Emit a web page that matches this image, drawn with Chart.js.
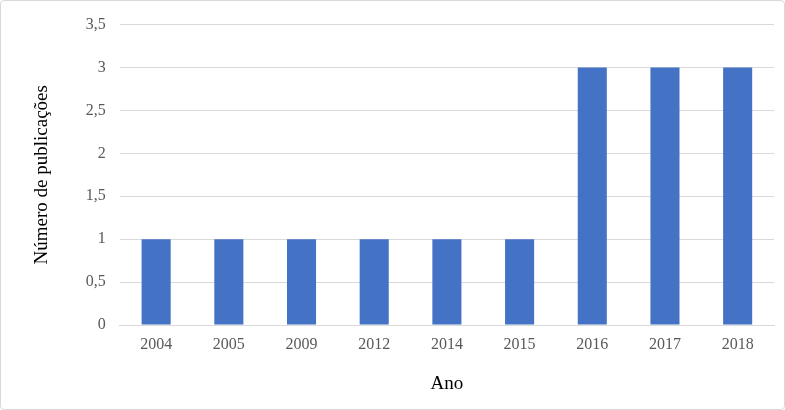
<!DOCTYPE html>
<html><head><meta charset="utf-8">
<script src="https://cdn.jsdelivr.net/npm/chart.js@4/dist/chart.umd.min.js"></script>
<style>html,body{margin:0;padding:0;background:#fff}
#w{width:783px;height:408px;border:1px solid #d9d9d9;border-radius:4px;position:relative}
</style></head><body>
<div id="w"><canvas id="c"></canvas></div>
<script>
const categories=["2004","2005","2009","2012","2014","2015","2016","2017","2018"];
const values=[1,1,1,1,1,1,3,3,3];
const yTitle="Número de publicações";
const xTitle="Ano";
const font={family:"'Liberation Serif','Times New Roman',serif",size:16};
new Chart(document.getElementById('c'),{
 type:'bar',
 data:{labels:categories,datasets:[{data:values,backgroundColor:'#4472C4',categoryPercentage:1,barPercentage:0.4}]},
 options:{responsive:true,maintainAspectRatio:false,animation:false,
  layout:{padding:{top:14,right:10,left:26,bottom:10}},
  plugins:{legend:{display:false},tooltip:{enabled:false}},
  scales:{
   x:{grid:{display:false,drawTicks:false},border:{color:'#d9d9d9'},ticks:{color:'#595959',font,padding:10},
      title:{display:true,text:xTitle,color:'#000',font:{...font,size:19},padding:{top:8}}},
   y:{min:0,max:3.5,grid:{color:'#d9d9d9',drawTicks:false},border:{display:false},
      ticks:{stepSize:0.5,color:'#595959',font,padding:14,callback:v=>String(v).replace('.',',')},
      title:{display:true,text:yTitle,color:'#000',font:{...font,size:19},padding:{bottom:18}}}
  }}
});
</script></body></html>
